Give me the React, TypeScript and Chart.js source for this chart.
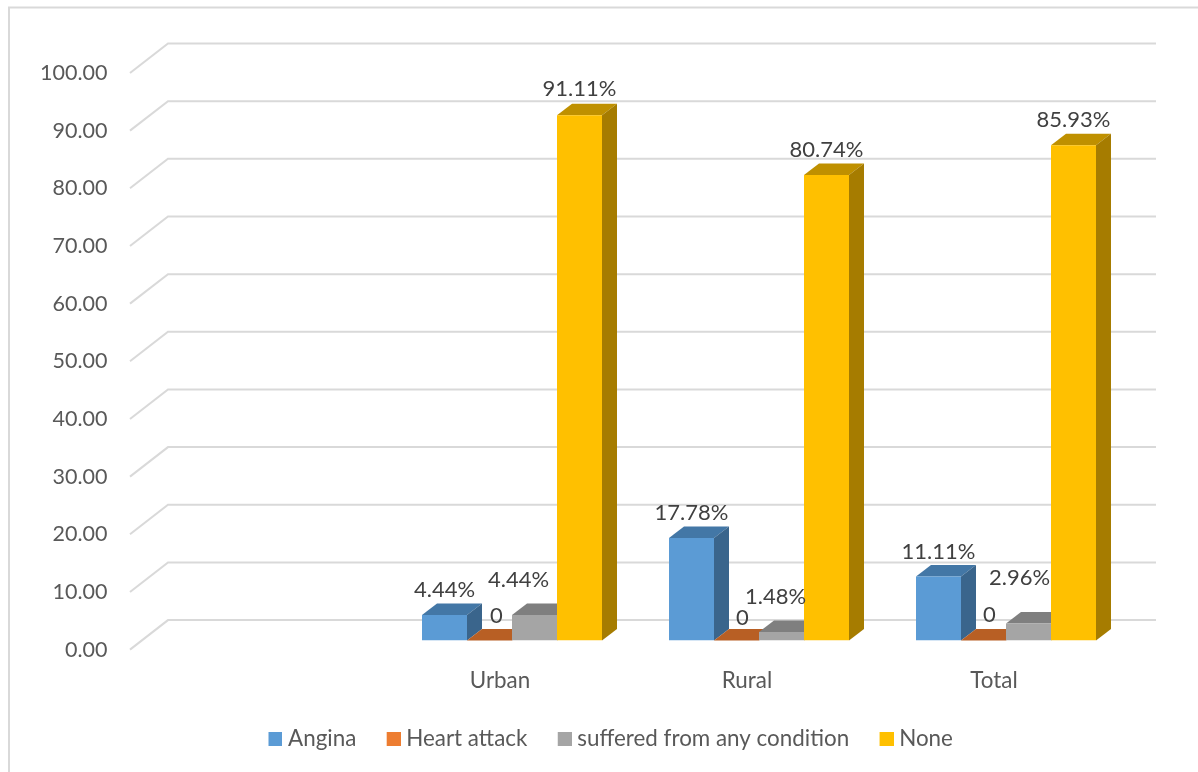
import { useEffect, useRef } from "react";
import { Chart, registerables } from "chart.js";

Chart.register(...registerables);

const categories = ["", "Urban", "Rural", "Total"];
const angina = [null, 4.44, 17.78, 11.11];
const heartAttack = [null, 0, 0, 0];
const anyCondition = [null, 4.44, 1.48, 2.96];
const none = [null, 91.11, 80.74, 85.93];

const FONT = "Lato, sans-serif";
const GRID = "#d9d9d9";

// Colour of the front, top and side of each series' blocks.
const faces = [
  { label: "Angina", data: angina, front: "#5b9bd5", top: "#4377a6", side: "#3a658c" },
  { label: "Heart attack", data: heartAttack, front: "#ed7d31", top: "#b85f24", side: "#9c5220" },
  { label: "suffered from any condition", data: anyCondition, front: "#a5a5a5", top: "#7f7f7f", side: "#6b6b6b" },
  { label: "None", data: none, front: "#ffc000", top: "#bf9000", side: "#a67c00" },
];

// Extrusion of a block, and the floor's extent relative to the bar plane.
const BAR_DEPTH = { dx: 15, dy: 11.5 };
const FLOOR = { frontDx: -11.5, frontDy: 9, backDx: 26.5, backDy: -20.5 };

// Hand-placed label shifts [dx, dy] per series and category.
const labelShift = [
  [null, [0, -25], [0, -25.5], [0, -25]],
  [null, [7, -25], [6, -23], [6, -26]],
  [null, [-16, -35], [-6, -35], [-9, -46]],
  [null, [0, -26], [0, -25], [0, -25]],
];

const formatValue = (v: number) => (v === 0 ? "0" : `${v.toFixed(2)}%`);

// A legend key: a 14px square pushed to the right of its canvas, which tightens the key-to-text gap.
function makeSwatch(color: string) {
  const c = document.createElement("canvas");
  c.width = 20;
  c.height = 14;
  const g = c.getContext("2d")!;
  g.fillStyle = color;
  g.fillRect(6, 0, 14, 14);
  return c;
}

const wall3d = {
  id: "wall3d",
  beforeDraw(chart: any) {
    const { ctx, width, height } = chart;
    ctx.save();
    ctx.fillStyle = "#ffffff";
    ctx.fillRect(0, 0, width, height);
    ctx.strokeStyle = GRID;
    ctx.lineWidth = 2;
    ctx.beginPath();
    ctx.moveTo(9, height);
    ctx.lineTo(9, 7.5);
    ctx.lineTo(width, 7.5);
    ctx.stroke();
    ctx.restore();
  },
  beforeDatasetsDraw(chart: any) {
    const { ctx, chartArea, scales } = chart;
    ctx.save();
    ctx.strokeStyle = GRID;
    ctx.lineWidth = 2;
    for (const tick of scales.y.ticks) {
      const y = scales.y.getPixelForValue(tick.value);
      ctx.beginPath();
      ctx.moveTo(chartArea.left + FLOOR.frontDx, y + FLOOR.frontDy);
      ctx.lineTo(chartArea.left + FLOOR.backDx, y + FLOOR.backDy);
      ctx.lineTo(chartArea.right + FLOOR.backDx, y + FLOOR.backDy);
      ctx.stroke();
    }
    // Top and side faces go under the fronts, so a later bar hides what it should.
    chart.data.datasets.forEach((_: any, i: number) => {
      chart.getDatasetMeta(i).data.forEach((bar: any, j: number) => {
        if (faces[i].data[j] == null) return;
        const half = bar.width / 2;
        const l = bar.x - half;
        const r = bar.x + half;
        const { dx, dy } = BAR_DEPTH;
        ctx.fillStyle = faces[i].top;
        ctx.beginPath();
        ctx.moveTo(l, bar.y);
        ctx.lineTo(l + dx, bar.y - dy);
        ctx.lineTo(r + dx, bar.y - dy);
        ctx.lineTo(r, bar.y);
        ctx.closePath();
        ctx.fill();
        ctx.fillStyle = faces[i].side;
        ctx.beginPath();
        ctx.moveTo(r, bar.y);
        ctx.lineTo(r + dx, bar.y - dy);
        ctx.lineTo(r + dx, bar.base - dy);
        ctx.lineTo(r, bar.base);
        ctx.closePath();
        ctx.fill();
      });
    });
    ctx.restore();
  },
  afterDatasetsDraw(chart: any) {
    const { ctx } = chart;
    ctx.save();
    ctx.font = `22px ${FONT}`;
    ctx.fillStyle = "#404040";
    ctx.textAlign = "center";
    ctx.textBaseline = "middle";
    chart.data.datasets.forEach((_: any, i: number) => {
      chart.getDatasetMeta(i).data.forEach((bar: any, j: number) => {
        const value = faces[i].data[j];
        const shift = labelShift[i][j];
        if (value == null || !shift) return;
        ctx.fillText(formatValue(value), bar.x + shift[0], bar.y + shift[1]);
      });
    });
    ctx.restore();
  },
};

export default function App() {
  const ref = useRef<HTMLCanvasElement>(null);

  useEffect(() => {
    const swatches = faces.map((f) => makeSwatch(f.front));
    const chart = new Chart(ref.current!, {
      type: "bar",
      data: {
        labels: categories,
        datasets: faces.map((f) => ({
          label: f.label,
          data: f.data,
          backgroundColor: f.front,
          borderWidth: 0,
          categoryPercentage: 180 / 247,
          barPercentage: 1,
        })),
      },
      options: {
        responsive: false,
        animation: false,
        layout: { padding: { top: 64, left: 23, right: 0, bottom: 12 } },
        plugins: {
          tooltip: { enabled: false },
          legend: {
            position: "bottom",
            labels: {
              boxWidth: 8.75,
              boxHeight: 14,
              padding: 30,
              usePointStyle: true,
              color: "#595959",
              font: { family: FONT, size: 22.4 },
              generateLabels: (c: any) =>
                Chart.defaults.plugins.legend.labels
                  .generateLabels(c)
                  .map((item: any) => ({ ...item, pointStyle: swatches[item.datasetIndex] })),
            },
          },
        },
        scales: {
          x: {
            grid: { display: false },
            border: { display: false },
            ticks: {
              color: "#595959",
              font: { family: FONT, size: 22.4 },
              padding: 19,
              labelOffset: -12,
              maxRotation: 0,
              autoSkip: false,
            },
            afterFit(scale: any) {
              scale.height = 57;
            },
          },
          y: {
            min: 0,
            max: 100,
            grid: { display: false, drawTicks: false },
            border: { display: false },
            ticks: {
              stepSize: 10,
              color: "#595959",
              font: { family: FONT, size: 21.5 },
              padding: 34,
              labelOffset: 9,
              callback: (v: any) => Number(v).toFixed(2),
            },
            afterFit(scale: any) {
              scale.width = 118.5;
            },
          },
          // Empty right-hand gutter that keeps the legend centred on the whole card.
          gutter: {
            type: "linear",
            axis: "y",
            position: "right",
            grid: { display: false },
            border: { display: false },
            ticks: { display: false },
            afterFit(scale: any) {
              scale.width = 68.5;
            },
          },
        },
      },
      plugins: [wall3d],
    } as any);
    return () => chart.destroy();
  }, []);

  return (
    <div style={{ position: "absolute", left: 0, top: 0, width: 1198, height: 772 }}>
      <canvas ref={ref} width={1198} height={772} style={{ display: "block" }} />
    </div>
  );
}
